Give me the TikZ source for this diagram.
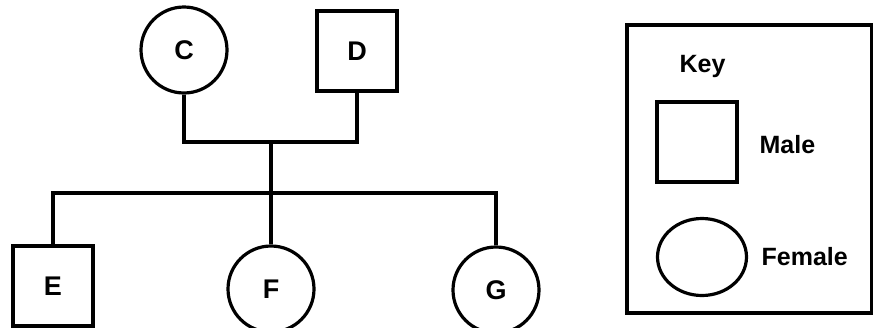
\documentclass[tikz,border=0pt]{standalone}
\usepackage{fontspec}
\setmainfont{Liberation Sans}
\usepackage{tikz}
\usetikzlibrary{shapes}
\usetikzlibrary{backgrounds}
\tikzstyle{female}=[circle,draw=black,inner sep=0mm,minimum size=86pt,font=\fontsize{27}{29}\selectfont\bfseries]
\tikzstyle{male}=[rectangle,draw=black,inner sep=0mm,minimum size=80pt,font=\fontsize{27}{29}\selectfont\bfseries]
\tikzstyle{keytext}=[inner sep=0mm,anchor=west,font=\fontsize{25}{27}\selectfont\bfseries]
\tikzset{every picture/.style={
    line width=3.2pt
  }
}

\begin{document}
\begin{tikzpicture}[x=1pt,y=-1pt]
      \useasboundingbox (0,0) rectangle (873,327);
      % parents
      \node[female] at (184,50) (C) {C};
      \node[male] at (357,51) (D) {D};
      % children
      \node[male] at (53,286) (E) {E};
      \node[female] at (271,289) (F) {F};
      \node[female] at (496,290) (G) {G};
      \coordinate (mate) at (271,142);
      \coordinate (sib) at (271,193);
      \draw (C.south) |- (mate) -| (D.south);
      \draw (mate) -- (F.north);
      \draw (E.north) |- (sib) -| (G.north);
      % key
      \draw (627,25) rectangle (872,313);
      \node[keytext] at (678,66) (key) {Key};
      \node[male] at (697,142) (kmale) {};
      \node[keytext] at (758,145) (lmale) {Male};
      \node[female,ellipse,minimum width=89pt,minimum height=77pt] at (702,257) (kfemale) {};
      \node[keytext] at (760,257) (lfemale) {Female};
\end{tikzpicture}
\end{document}
